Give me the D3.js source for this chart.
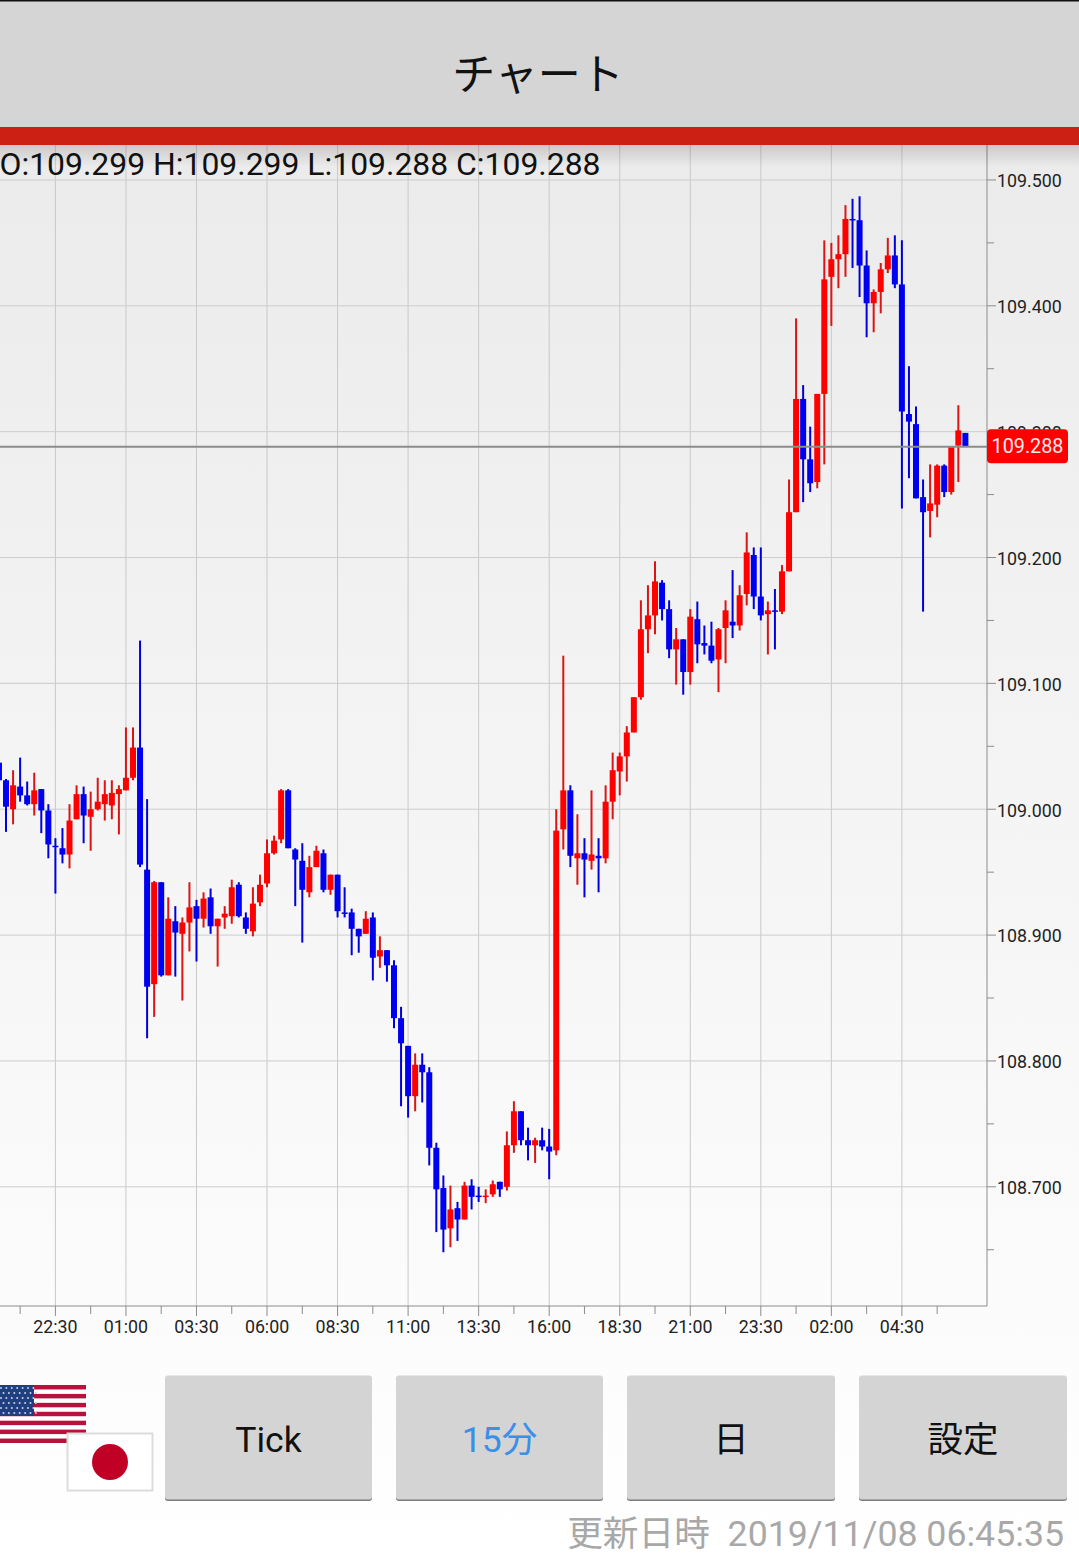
<!DOCTYPE html>
<html>
<head>
<meta charset="utf-8">
<script src="https://cdn.jsdelivr.net/npm/d3@7/dist/d3.min.js"></script>
<style>
  html, body { margin: 0; padding: 0; background: #fff; }
  svg { display: block; }
  text { font-family: Roboto, "Noto Sans CJK JP", sans-serif; }
</style>
</head>
<body>
<div id="graph"></div>
<script>
// 15 minute candles
var open = [
  109.037,109.023,109.000,109.018,109.011,109.004,109.016,108.999,108.971,108.969,
  108.964,108.992,109.012,108.994,109.000,109.004,109.003,109.012,109.015,109.025,
  109.049,108.952,108.861,108.942,108.868,108.911,108.901,108.910,108.923,108.913,
  108.930,108.907,108.914,108.915,108.940,108.914,108.903,108.926,108.941,108.965,
  108.976,109.015,108.968,108.959,108.934,108.954,108.965,108.936,108.948,108.918,
  108.918,108.905,108.901,108.914,108.883,108.888,108.876,108.834,108.812,108.772,
  108.797,108.791,108.731,108.699,108.667,108.683,108.674,108.701,108.693,108.692,
  108.694,108.704,108.700,108.733,108.760,108.737,108.733,108.737,108.732,108.729,
  108.984,109.015,108.961,108.965,108.959,108.963,108.961,109.006,109.030,109.042,
  109.061,109.089,109.143,109.154,109.180,109.159,109.127,109.135,109.109,109.151,
  109.132,109.130,109.119,109.144,109.149,109.146,109.171,109.202,109.169,109.155,
  109.158,109.157,109.189,109.236,109.326,109.278,109.260,109.330,109.423,109.437,
  109.441,109.469,109.468,109.432,109.402,109.411,109.429,109.440,109.417,109.314,
  109.306,109.248,109.237,109.242,109.273,109.252,109.289,109.299
];
var high = [
  109.037,109.024,109.031,109.041,109.022,109.029,109.016,109.004,108.977,108.985,
  109.004,109.019,109.018,109.014,109.025,109.023,109.023,109.019,109.065,109.065,
  109.134,109.008,108.943,108.942,108.930,108.923,108.914,108.942,108.928,108.934,
  108.937,108.913,108.923,108.944,108.942,108.918,108.938,108.948,108.976,108.979,
  109.016,109.016,108.969,108.973,108.963,108.971,108.968,108.948,108.948,108.938,
  108.921,108.905,108.919,108.918,108.899,108.888,108.880,108.843,108.812,108.806,
  108.806,108.795,108.735,108.709,108.701,108.688,108.704,108.706,108.700,108.698,
  108.705,108.704,108.744,108.768,108.760,108.747,108.739,108.747,108.746,109.000,
  109.122,109.019,108.996,108.977,109.015,108.977,109.019,109.045,109.045,109.066,
  109.089,109.166,109.178,109.197,109.182,109.166,109.144,109.135,109.159,109.165,
  109.146,109.149,109.144,109.166,109.190,109.178,109.220,109.208,109.208,109.165,
  109.175,109.194,109.262,109.390,109.337,109.304,109.330,109.452,109.450,109.456,
  109.480,109.485,109.487,109.444,109.413,109.434,109.454,109.456,109.452,109.352,
  109.320,109.262,109.274,109.274,109.274,109.288,109.321,109.299
];
var low = [
  109.020,108.982,108.988,109.006,109.003,108.995,108.981,108.961,108.933,108.957,
  108.953,108.992,108.973,108.967,108.999,108.991,108.992,108.980,109.015,109.023,
  108.954,108.818,108.835,108.867,108.868,108.867,108.848,108.887,108.879,108.906,
  108.901,108.875,108.905,108.909,108.914,108.901,108.899,108.923,108.938,108.964,
  108.973,108.969,108.923,108.894,108.930,108.954,108.934,108.932,108.914,108.914,
  108.884,108.886,108.901,108.864,108.874,108.863,108.826,108.764,108.755,108.760,
  108.767,108.717,108.664,108.648,108.652,108.657,108.674,108.682,108.688,108.687,
  108.692,108.692,108.697,108.727,108.733,108.721,108.719,108.729,108.706,108.725,
  108.968,108.954,108.940,108.930,108.952,108.934,108.957,108.992,109.011,109.022,
  109.061,109.087,109.124,109.139,109.150,109.120,109.099,109.091,109.099,109.116,
  109.123,109.116,109.093,109.116,109.136,109.142,109.162,109.159,109.150,109.123,
  109.127,109.155,109.189,109.236,109.244,109.252,109.255,109.274,109.384,109.414,
  109.423,109.430,109.407,109.375,109.379,109.394,109.426,109.414,109.239,109.263,
  109.247,109.157,109.216,109.232,109.248,109.250,109.260,109.288
];
var close = [
  109.023,109.002,109.019,109.011,109.004,109.015,108.999,108.972,108.970,108.964,
  108.991,109.012,108.995,109.000,109.006,109.012,109.013,109.016,109.025,109.049,
  108.956,108.859,108.942,108.868,108.913,108.902,108.910,108.922,108.913,108.929,
  108.907,108.913,108.917,108.938,108.915,108.905,108.925,108.940,108.965,108.975,
  109.015,108.969,108.960,108.936,108.954,108.967,108.936,108.948,108.919,108.917,
  108.905,108.899,108.913,108.882,108.888,108.876,108.834,108.814,108.772,108.797,
  108.791,108.731,108.698,108.666,108.682,108.674,108.701,108.692,108.692,108.693,
  108.702,108.698,108.733,108.760,108.737,108.733,108.737,108.732,108.728,108.983,
  109.015,108.963,108.965,108.960,108.964,108.961,109.006,109.031,109.042,109.061,
  109.089,109.143,109.154,109.181,109.159,109.127,109.135,109.109,109.153,109.131,
  109.130,109.118,109.143,109.158,109.146,109.170,109.204,109.169,109.154,109.158,
  109.157,109.189,109.236,109.326,109.278,109.259,109.330,109.421,109.437,109.441,
  109.469,109.468,109.432,109.402,109.411,109.429,109.440,109.417,109.316,109.308,
  109.247,109.236,109.243,109.273,109.252,109.288,109.301,109.288
];

var timeLabels = ["22:30","01:00","03:30","06:00","08:30","11:00","13:30","16:00","18:30","21:00","23:30","02:00","04:30"];
var timeIndex = [8,18,28,38,48,58,68,78,88,98,108,118,128];
var timeMinor = [3,13,23,33,43,53,63,73,83,93,103,113,123,133];
var priceMajor = [109.5,109.4,109.3,109.2,109.1,109.0,108.9,108.8,108.7];
var priceMinor = [109.45,109.35,109.25,109.15,109.05,108.95,108.85,108.75,108.65];
var lastPrice = 109.288;
var ohlcText = "O:109.299 H:109.299 L:109.288 C:109.288";
var buttons = ["Tick","15分","日","設定"];
var buttonLeft = [165,396,627,859];
var buttonWidth = [207,207,208,208];
var updated = "更新日時  2019/11/08 06:45:35";

var width = 1079, height = 1556;
var plotRight = 987, plotTop = 145, plotBottom = 1306;

var x = d3.scaleLinear().domain([8,128]).range([55.4,901.9]);
var y = d3.scaleLinear().domain([108.7,109.4]).range([1186.8,305.8]);

var svg = d3.select("#graph").append("svg")
    .attr("width", width)
    .attr("height", height);

var defs = svg.append("defs");
var bg = defs.append("linearGradient").attr("id","bg").attr("x1",0).attr("x2",0).attr("y1",0).attr("y2",1);
bg.append("stop").attr("offset",0).attr("stop-color","#ebebeb");
bg.append("stop").attr("offset",1).attr("stop-color","#ffffff");
var shade = defs.append("linearGradient").attr("id","shade").attr("x1",0).attr("x2",0).attr("y1",0).attr("y2",1);
shade.append("stop").attr("offset",0).attr("stop-color","#000").attr("stop-opacity",0.14);
shade.append("stop").attr("offset",1).attr("stop-color","#000").attr("stop-opacity",0);
defs.append("clipPath").attr("id","plot").append("rect")
    .attr("x",0).attr("y",plotTop).attr("width",plotRight).attr("height",plotBottom-plotTop);

// page
svg.append("rect").attr("x",0).attr("y",plotTop).attr("width",width).attr("height",height-plotTop).attr("fill","url(#bg)");

// grid
var grid = svg.append("g").attr("class","grid");
grid.selectAll(".gx").data(timeIndex).enter().append("line")
    .attr("x1",function(d){ return x(d); })
    .attr("x2",function(d){ return x(d); })
    .attr("y1",plotTop).attr("y2",plotBottom)
    .attr("stroke","#c9c9c9").attr("stroke-width",1);
grid.selectAll(".gy").data(priceMajor).enter().append("line")
    .attr("x1",0).attr("x2",plotRight)
    .attr("y1",function(d){ return y(d); })
    .attr("y2",function(d){ return y(d); })
    .attr("stroke","#cdcdcd").attr("stroke-width",1);

// candles
var candles = svg.append("g").attr("clip-path","url(#plot)");
var nodes = candles.selectAll(".candle")
    .data(d3.range(open.length))
    .enter().append("g").attr("class","candle");

nodes.append("line")
    .attr("x1",function(i){ return x(i); })
    .attr("x2",function(i){ return x(i); })
    .attr("y1",function(i){ return y(high[i]); })
    .attr("y2",function(i){ return y(low[i]); })
    .attr("stroke",function(i){ return close[i] >= open[i] ? "#dc1414" : "#0000dc"; })
    .attr("stroke-width",2);

nodes.append("rect")
    .attr("x",function(i){ return x(i) - 3; })
    .attr("width",6)
    .attr("y",function(i){ return y(Math.max(open[i],close[i])); })
    .attr("height",function(i){ return Math.max(1.5, Math.abs(y(open[i]) - y(close[i]))); })
    .attr("fill",function(i){ return close[i] >= open[i] ? "#ff0000" : "#0000f0"; });

// current price line
svg.append("line")
    .attr("x1",0).attr("x2",plotRight)
    .attr("y1",y(lastPrice)).attr("y2",y(lastPrice))
    .attr("stroke","#8c8c8c").attr("stroke-width",2);

// axes
var axisRight = d3.axisRight(y).tickValues(priceMajor).tickFormat(d3.format(".3f")).tickSize(9).tickPadding(1).offset(0);
var axisRightMinor = d3.axisRight(y).tickValues(priceMinor).tickFormat("").tickSize(7).offset(0);
var axisBottom = d3.axisBottom(x).tickValues(timeIndex)
    .tickFormat(function(d){ return timeLabels[timeIndex.indexOf(d)]; })
    .tickSize(10).tickPadding(4).offset(0);
var axisBottomMinor = d3.axisBottom(x).tickValues(timeMinor).tickFormat("").tickSize(8).offset(0);

[axisRight, axisRightMinor].forEach(function(a){
  svg.append("g").attr("class","axis yaxis").attr("transform","translate("+plotRight+",0)").call(a);
});
[axisBottom, axisBottomMinor].forEach(function(a){
  svg.append("g").attr("class","axis").attr("transform","translate(0,"+plotBottom+")").call(a);
});
svg.selectAll(".axis .domain").remove();
svg.selectAll(".axis line").attr("stroke","#8c8c8c");
svg.selectAll(".axis text").attr("fill","#222").style("font-size","17.8px");
svg.selectAll(".yaxis text").attr("dy","0.41em");

svg.append("line").attr("x1",plotRight).attr("x2",plotRight).attr("y1",plotTop).attr("y2",plotBottom).attr("stroke","#8c8c8c");
svg.append("line").attr("x1",0).attr("x2",plotRight).attr("y1",plotBottom).attr("y2",plotBottom).attr("stroke","#8c8c8c");

// price tag
svg.append("rect")
    .attr("x",plotRight).attr("y",y(lastPrice)-17.5)
    .attr("width",81).attr("height",34).attr("rx",4)
    .attr("fill","#ff0000");
svg.append("text")
    .attr("x",plotRight+40.5).attr("y",y(lastPrice)+6.5)
    .attr("text-anchor","middle").attr("fill","#fbeaea")
    .style("font-size","19.8px")
    .text(d3.format(".3f")(lastPrice));

// OHLC readout
svg.append("text")
    .attr("x",-0.5).attr("y",175)
    .attr("fill","#111")
    .style("font-size","31.9px")
    .text(ohlcText);

// header
svg.append("rect").attr("x",0).attr("y",0).attr("width",width).attr("height",127).attr("fill","#d5d5d5");
svg.append("rect").attr("x",0).attr("y",0).attr("width",width).attr("height",1.5).attr("fill","#111");
svg.append("rect").attr("x",0).attr("y",127).attr("width",width).attr("height",18).attr("fill","#cd2014");
svg.append("rect").attr("x",0).attr("y",145).attr("width",width).attr("height",22).attr("fill","url(#shade)");
svg.append("text")
    .attr("x",538).attr("y",90)
    .attr("text-anchor","middle").attr("fill","#111")
    .style("font-size","43px")
    .text("チャート");

// flags
var flagUs = svg.append("g");
flagUs.append("rect").attr("x",0).attr("y",1385).attr("width",86).attr("height",58).attr("fill","#fff");
d3.range(7).forEach(function(k){
  flagUs.append("rect").attr("x",0).attr("y",1385+k*58/6.5).attr("width",86).attr("height",58/13).attr("fill","#b8123c");
});
flagUs.append("rect").attr("x",0).attr("y",1385).attr("width",34).attr("height",31).attr("fill","#1f3f80");
d3.range(6).forEach(function(r){
  d3.range(7).forEach(function(c){
    flagUs.append("circle").attr("cx",c*5.4+1+(r%2)*2.5).attr("cy",1388+r*5).attr("r",1).attr("fill","#c8d0e4");
  });
});
svg.append("rect").attr("x",67.5).attr("y",1433.5).attr("width",85).attr("height",57).attr("fill","#fff").attr("stroke","#dcdcdc").attr("stroke-width",2);
svg.append("circle").attr("cx",110).attr("cy",1462).attr("r",18).attr("fill","#c00024");

// buttons
var btn = svg.selectAll(".btn").data(buttons).enter().append("g").attr("class","btn");
btn.append("rect")
    .attr("x",function(d,i){ return buttonLeft[i]; })
    .attr("y",1378).attr("width",function(d,i){ return buttonWidth[i]; }).attr("height",123).attr("rx",3)
    .attr("fill","#7d7d7d");
btn.append("rect")
    .attr("x",function(d,i){ return buttonLeft[i]; })
    .attr("y",1375.5).attr("width",function(d,i){ return buttonWidth[i]; }).attr("height",124).attr("rx",3)
    .attr("fill","#d4d4d4");
btn.append("text")
    .attr("x",function(d,i){ return buttonLeft[i] + buttonWidth[i]/2; })
    .attr("y",1452)
    .attr("text-anchor","middle")
    .attr("fill",function(d,i){ return i == 1 ? "#3a8fe8" : "#111"; })
    .style("font-size","35.5px")
    .text(function(d){ return d; });

// update time
svg.append("text")
    .attr("x",1064).attr("y",1546)
    .attr("text-anchor","end").attr("fill","#a8a8a8")
    .style("font-size","35.7px")
    .style("white-space","pre")
    .text(updated);
</script>
</body>
</html>
